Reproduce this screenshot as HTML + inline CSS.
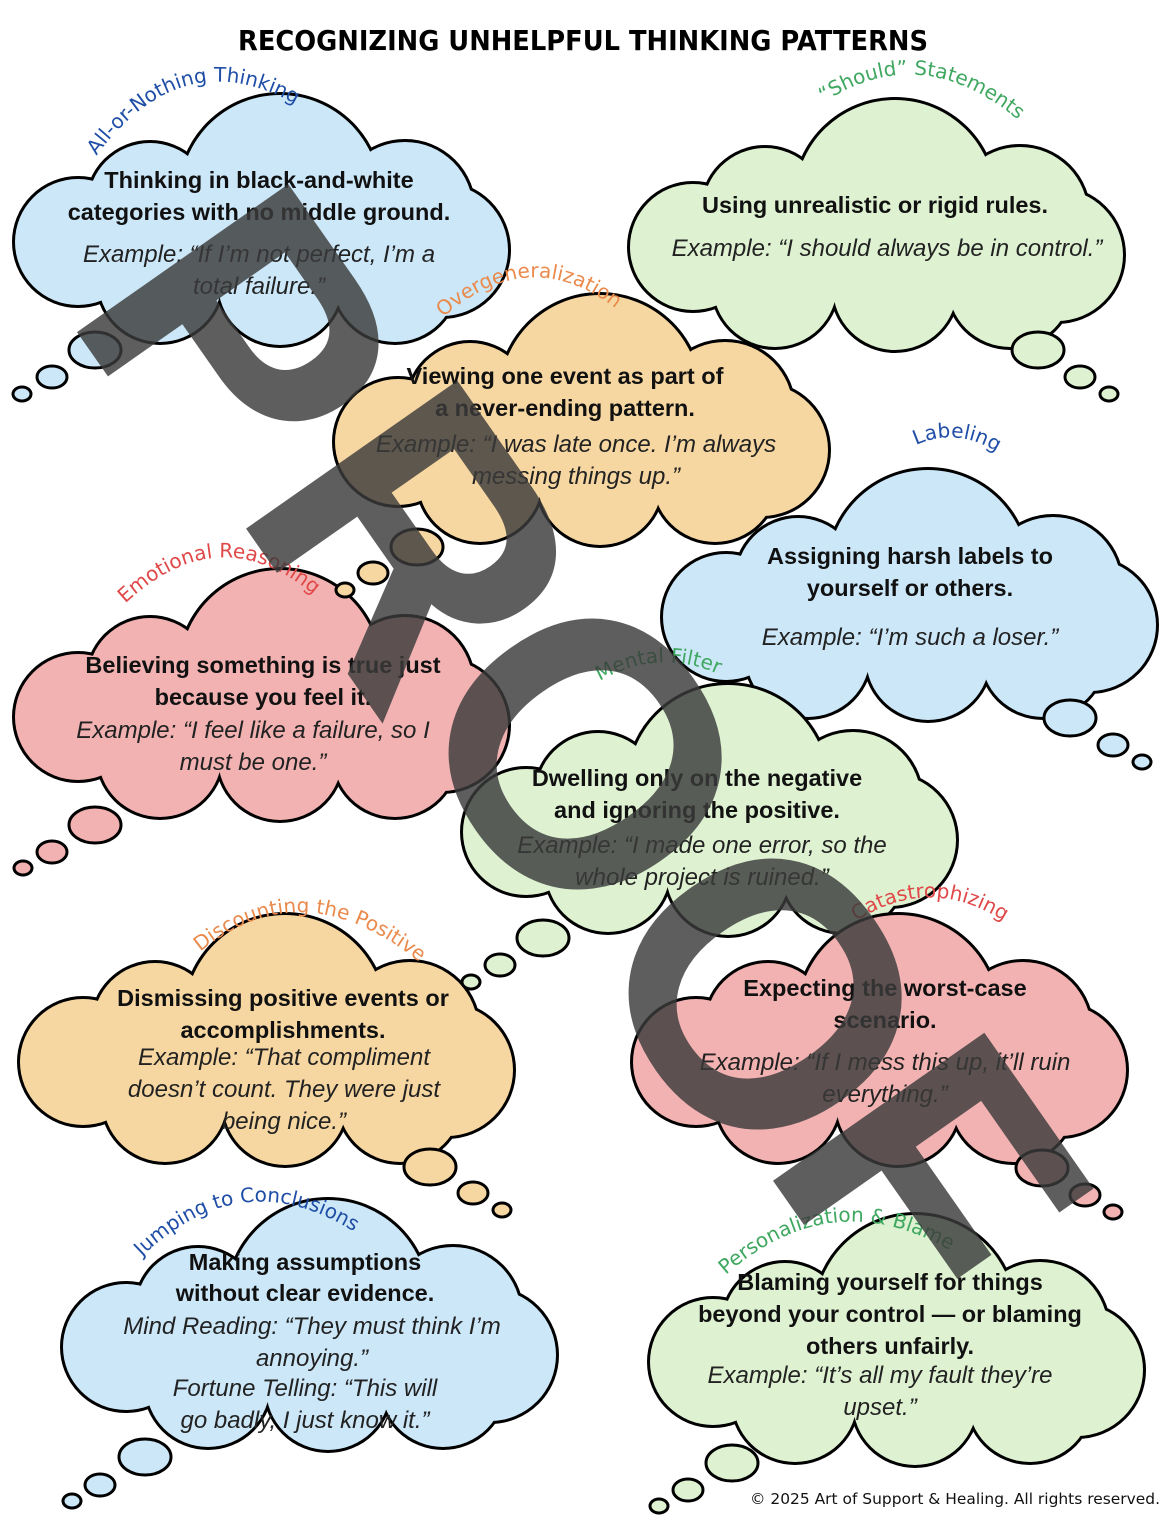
<!DOCTYPE html>
<html><head><meta charset="utf-8"><style>
html,body{margin:0;padding:0;background:#fff}
svg{display:block}
.b{font-family:"Liberation Sans",sans-serif;font-weight:bold;font-size:23.5px;fill:#111;text-anchor:middle}
.i{font-family:"Liberation Sans",sans-serif;font-style:italic;font-size:24px;fill:#222;text-anchor:middle}
.t{font-family:"DejaVu Sans","Liberation Sans",sans-serif;font-size:20px}
</style></head><body>
<svg width="1174" height="1522" viewBox="0 0 1174 1522" xmlns="http://www.w3.org/2000/svg">
<defs>
<g id="cs">
<circle cx="270" cy="105" r="100"/>
<circle cx="140" cy="115" r="62"/>
<circle cx="395" cy="120" r="68"/>
<circle cx="68" cy="152" r="63"/>
<circle cx="432" cy="160" r="66"/>
<circle cx="150" cy="190" r="62"/>
<circle cx="270" cy="193" r="62"/>
<circle cx="385" cy="190" r="62"/>
</g>
</defs>
<text x="583" y="50" font-family="DejaVu Sans,Liberation Sans,sans-serif" font-size="28" font-weight="bold" text-anchor="middle" textLength="690" lengthAdjust="spacingAndGlyphs">RECOGNIZING UNHELPFUL THINKING PATTERNS</text>

<g>
<g transform="translate(10,90)"><use href="#cs" fill="#cce7f8" stroke="#000" stroke-width="6"/><use href="#cs" fill="#cce7f8"/></g>
<g transform="translate(625,95)"><use href="#cs" fill="#def2d2" stroke="#000" stroke-width="6"/><use href="#cs" fill="#def2d2"/></g>
<g transform="translate(330,290)"><use href="#cs" fill="#f7d7a1" stroke="#000" stroke-width="6"/><use href="#cs" fill="#f7d7a1"/></g>
<g transform="translate(658,465)"><use href="#cs" fill="#cce7f8" stroke="#000" stroke-width="6"/><use href="#cs" fill="#cce7f8"/></g>
<g transform="translate(10,565)"><use href="#cs" fill="#f2b2b2" stroke="#000" stroke-width="6"/><use href="#cs" fill="#f2b2b2"/></g>
<g transform="translate(458,680)"><use href="#cs" fill="#def2d2" stroke="#000" stroke-width="6"/><use href="#cs" fill="#def2d2"/></g>
<g transform="translate(15,910)"><use href="#cs" fill="#f7d7a1" stroke="#000" stroke-width="6"/><use href="#cs" fill="#f7d7a1"/></g>
<g transform="translate(628,910)"><use href="#cs" fill="#f2b2b2" stroke="#000" stroke-width="6"/><use href="#cs" fill="#f2b2b2"/></g>
<g transform="translate(58,1195)"><use href="#cs" fill="#cce7f8" stroke="#000" stroke-width="6"/><use href="#cs" fill="#cce7f8"/></g>
<g transform="translate(645,1210)"><use href="#cs" fill="#def2d2" stroke="#000" stroke-width="6"/><use href="#cs" fill="#def2d2"/></g>
</g>

<g stroke="#000" stroke-width="3">
<g fill="#cce7f8"><ellipse cx="95" cy="350" rx="26" ry="18"/><ellipse cx="52" cy="377" rx="15" ry="11"/><ellipse cx="22" cy="394" rx="9" ry="7"/></g>
<g fill="#def2d2"><ellipse cx="1038" cy="350" rx="26" ry="18"/><ellipse cx="1080" cy="377" rx="15" ry="11"/><ellipse cx="1109" cy="394" rx="9" ry="7"/></g>
<g fill="#f7d7a1"><ellipse cx="417" cy="547" rx="26" ry="18"/><ellipse cx="373" cy="573" rx="15" ry="11"/><ellipse cx="345" cy="590" rx="9" ry="7"/></g>
<g fill="#cce7f8"><ellipse cx="1070" cy="718" rx="26" ry="18"/><ellipse cx="1113" cy="745" rx="15" ry="11"/><ellipse cx="1142" cy="762" rx="9" ry="7"/></g>
<g fill="#f2b2b2"><ellipse cx="95" cy="825" rx="26" ry="18"/><ellipse cx="52" cy="852" rx="15" ry="11"/><ellipse cx="23" cy="868" rx="9" ry="7"/></g>
<g fill="#def2d2"><ellipse cx="543" cy="938" rx="26" ry="18"/><ellipse cx="500" cy="965" rx="15" ry="11"/><ellipse cx="471" cy="982" rx="9" ry="7"/></g>
<g fill="#f7d7a1"><ellipse cx="430" cy="1167" rx="26" ry="18"/><ellipse cx="473" cy="1193" rx="15" ry="11"/><ellipse cx="502" cy="1210" rx="9" ry="7"/></g>
<g fill="#f2b2b2"><ellipse cx="1042" cy="1168" rx="26" ry="18"/><ellipse cx="1085" cy="1195" rx="15" ry="11"/><ellipse cx="1113" cy="1212" rx="9" ry="7"/></g>
<g fill="#cce7f8"><ellipse cx="145" cy="1457" rx="26" ry="18"/><ellipse cx="100" cy="1485" rx="15" ry="11"/><ellipse cx="72" cy="1501" rx="9" ry="7"/></g>
<g fill="#def2d2"><ellipse cx="732" cy="1463" rx="26" ry="18"/><ellipse cx="688" cy="1490" rx="15" ry="11"/><ellipse cx="659" cy="1506" rx="9" ry="7"/></g>
</g>

<path id="p1" d="M80,180 Q180,20 320,120" fill="none"/>
<path id="p2" d="M800,120 Q920,20 1040,140" fill="none"/>
<path id="p3" d="M420,340 Q530,220 640,330" fill="none"/>
<path id="p4" d="M880,470 Q955,400 1030,480" fill="none"/>
<path id="p5" d="M100,630 Q220,490 340,620" fill="none"/>
<path id="p6" d="M560,710 Q660,620 760,700" fill="none"/>
<path id="p7" d="M180,970 Q300,850 440,980" fill="none"/>
<path id="p8" d="M820,950 Q930,845 1040,950" fill="none"/>
<path id="p9" d="M120,1280 Q240,1140 380,1250" fill="none"/>
<path id="p10" d="M700,1300 Q830,1160 980,1270" fill="none"/>
<g class="t" text-anchor="middle">
<text fill="#1f4ea6"><textPath href="#p1" startOffset="50%">All-or-Nothing Thinking</textPath></text>
<text fill="#3fa760"><textPath href="#p2" startOffset="50%">“Should” Statements</textPath></text>
<text fill="#ea8a4c"><textPath href="#p3" startOffset="50%">Overgeneralization</textPath></text>
<text fill="#1f4ea6"><textPath href="#p4" startOffset="50%">Labeling</textPath></text>
<text fill="#e04848"><textPath href="#p5" startOffset="50%">Emotional Reasoning</textPath></text>
<text fill="#3fa760"><textPath href="#p6" startOffset="50%">Mental Filter</textPath></text>
<text fill="#ea8a4c"><textPath href="#p7" startOffset="50%">Discounting the Positive</textPath></text>
<text fill="#e04848"><textPath href="#p8" startOffset="50%">Catastrophizing</textPath></text>
<text fill="#1f4ea6"><textPath href="#p9" startOffset="50%">Jumping to Conclusions</textPath></text>
<text fill="#3fa760"><textPath href="#p10" startOffset="50%">Personalization &amp; Blame</textPath></text>
</g>

<text class="b" x="259" y="188">Thinking in black-and-white</text>
<text class="b" x="259" y="220">categories with no middle ground.</text>
<text class="i" x="259" y="262">Example: “If I’m not perfect, I’m a</text>
<text class="i" x="259" y="294">total failure.”</text>

<text class="b" x="875" y="213">Using unrealistic or rigid rules.</text>
<text class="i" x="887" y="256">Example: “I should always be in control.”</text>

<text class="b" x="565" y="384">Viewing one event as part of</text>
<text class="b" x="565" y="416">a never-ending pattern.</text>
<text class="i" x="576" y="452">Example: “I was late once. I’m always</text>
<text class="i" x="576" y="484">messing things up.”</text>

<text class="b" x="910" y="564">Assigning harsh labels to</text>
<text class="b" x="910" y="596">yourself or others.</text>
<text class="i" x="910" y="645">Example: “I’m such a loser.”</text>

<text class="b" x="263" y="673">Believing something is true just</text>
<text class="b" x="263" y="705">because you feel it.</text>
<text class="i" x="253" y="738">Example: “I feel like a failure, so I</text>
<text class="i" x="253" y="770">must be one.”</text>

<text class="b" x="697" y="786">Dwelling only on the negative</text>
<text class="b" x="697" y="818">and ignoring the positive.</text>
<text class="i" x="702" y="853">Example: “I made one error, so the</text>
<text class="i" x="702" y="885">whole project is ruined.”</text>

<text class="b" x="283" y="1006">Dismissing positive events or</text>
<text class="b" x="283" y="1038">accomplishments.</text>
<text class="i" x="284" y="1065">Example: “That compliment</text>
<text class="i" x="284" y="1097">doesn’t count. They were just</text>
<text class="i" x="284" y="1129">being nice.”</text>

<text class="b" x="885" y="996">Expecting the worst-case</text>
<text class="b" x="885" y="1028">scenario.</text>
<text class="i" x="885" y="1070">Example: “If I mess this up, it’ll ruin</text>
<text class="i" x="885" y="1102">everything.”</text>

<text class="b" x="305" y="1270">Making assumptions</text>
<text class="b" x="305" y="1301">without clear evidence.</text>
<text class="i" x="312" y="1334">Mind Reading: “They must think I’m</text>
<text class="i" x="312" y="1366">annoying.”</text>
<text class="i" x="305" y="1396">Fortune Telling: “This will</text>
<text class="i" x="305" y="1428">go badly, I just know it.”</text>

<text class="b" x="890" y="1290">Blaming yourself for things</text>
<text class="b" x="890" y="1322">beyond your control — or blaming</text>
<text class="b" x="890" y="1354">others unfairly.</text>
<text class="i" x="880" y="1383">Example: “It’s all my fault they’re</text>
<text class="i" x="880" y="1415">upset.”</text>

<text x="955" y="1504" font-family="DejaVu Sans,Liberation Sans,sans-serif" font-size="15" text-anchor="middle" fill="#111" textLength="410" lengthAdjust="spacingAndGlyphs">© 2025 Art of Support &amp; Healing. All rights reserved.</text>

<g font-family="Liberation Sans,sans-serif" font-weight="bold" font-size="375" fill="#3a3a3a" fill-opacity="0.82" text-anchor="middle" dominant-baseline="central">
<text transform="translate(240,340) rotate(55)">P</text>
<text transform="translate(415,545) rotate(55)">R</text>
<text transform="translate(585,755) rotate(55)">O</text>
<text transform="translate(765,995) rotate(55)">O</text>
<text transform="translate(930,1180) rotate(55)">F</text>
</g>
</svg>
</body></html>
